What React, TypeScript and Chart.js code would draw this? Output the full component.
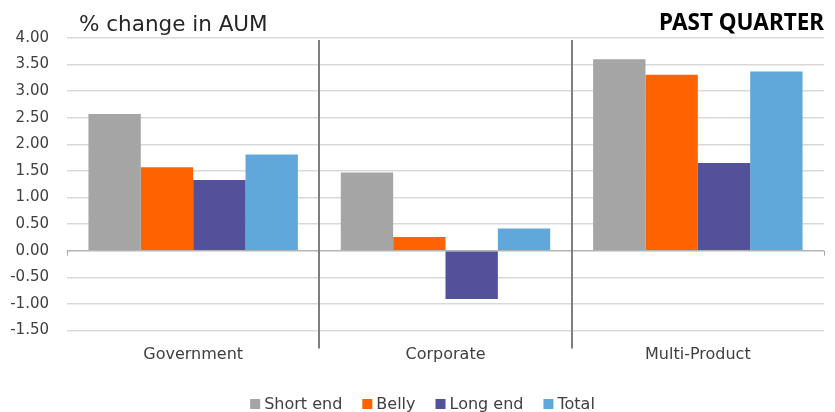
import React, { useEffect, useRef } from "react";
import { Chart, registerables } from "chart.js";

Chart.register(...registerables);

// ---- data ----
const categories = ["Government", "Corporate", "Multi-Product"];
const shortEnd = [2.57, 1.47, 3.6];
const belly = [1.57, 0.26, 3.31];
const longEnd = [1.33, -0.91, 1.65];
const total = [1.81, 0.42, 3.37];
const seriesNames = ["Short end", "Belly", "Long end", "Total"];
const seriesColors = ["#a5a5a5", "#ff6200", "#525199", "#60a7da"];
const chartTitle = "% change in AUM";
const periodLabel = "PAST QUARTER";
const yMin = -1.5;
const yMax = 4;
const yStep = 0.5;

const FONT = "'DejaVu Sans', sans-serif";
const BOLD_FONT = "'Noto Sans', sans-serif";
const TEXT = "#404040";

// Title, period tag, category separators, zero-line tick marks and legend
const decorations = {
  id: "decorations",
  afterDatasetsDraw(chart: any) {
    const { ctx, chartArea, scales } = chart;
    const y = scales.y;
    const n = categories.length;
    const step = (chartArea.right - chartArea.left) / n;
    const zeroY = y.getPixelForValue(0);
    ctx.save();

    // small tick marks hanging from the zero line at category boundaries
    ctx.strokeStyle = "#a6a6a6";
    ctx.lineWidth = 1;
    for (let i = 0; i <= n; i++) {
      const bx = Math.round(chartArea.left + i * step) + 0.5;
      ctx.beginPath();
      ctx.moveTo(bx, zeroY);
      ctx.lineTo(bx, zeroY + 5);
      ctx.stroke();
    }

    // vertical separators between category groups
    ctx.strokeStyle = "#7f7f7f";
    ctx.lineWidth = 2;
    for (let i = 1; i < n; i++) {
      const bx = Math.round(chartArea.left + i * step);
      ctx.beginPath();
      ctx.moveTo(bx, chartArea.top + 2);
      ctx.lineTo(bx, chartArea.bottom + 18);
      ctx.stroke();
    }
    ctx.restore();
  },
  afterDraw(chart: any) {
    const { ctx, chartArea } = chart;
    ctx.save();

    // chart title
    ctx.fillStyle = "#262626";
    ctx.textBaseline = "alphabetic";
    ctx.textAlign = "left";
    ctx.font = `21.5px ${FONT}`;
    ctx.fillText(chartTitle, chartArea.left + 12, 31);

    // period tag
    ctx.fillStyle = "#000000";
    ctx.textAlign = "right";
    ctx.font = `bold 22.5px ${BOLD_FONT}`;
    ctx.fillText(periodLabel, chartArea.right, 29.5);

    // legend
    ctx.font = `16px ${FONT}`;
    ctx.textAlign = "left";
    const box = 10;
    const gap = 4;
    const itemGap = 20;
    const widths = seriesNames.map((s) => box + gap + ctx.measureText(s).width);
    const totalW = widths.reduce((a, b) => a + b, 0) + itemGap * (widths.length - 1);
    let lx = chart.width / 2 + 5 - totalW / 2;
    const baseY = 409;
    chart.data.datasets.forEach((ds: any, i: number) => {
      ctx.fillStyle = ds.backgroundColor;
      ctx.fillRect(lx, baseY - 10, box, box);
      ctx.fillStyle = TEXT;
      ctx.fillText(ds.label, lx + box + gap, baseY);
      lx += widths[i] + itemGap;
    });
    ctx.restore();
  },
};

export default function App() {
  const canvasRef = useRef<HTMLCanvasElement | null>(null);

  useEffect(() => {
    const canvas = canvasRef.current;
    if (!canvas) return;
    Chart.defaults.font.family = FONT;
    const seriesValues = [shortEnd, belly, longEnd, total];

    const chart = new Chart(canvas, {
      type: "bar",
      data: {
        labels: categories,
        datasets: seriesNames.map((name, i) => ({
          label: name,
          data: seriesValues[i],
          backgroundColor: seriesColors[i],
          borderWidth: 0,
          categoryPercentage: 0.83,
          barPercentage: 1.0,
        })),
      },
      options: {
        responsive: false,
        animation: false,
        layout: { padding: { top: 38, right: 11, bottom: 0, left: 0 } },
        plugins: {
          legend: { display: false },
          tooltip: { enabled: false },
          title: { display: false },
        },
        scales: {
          x: {
            grid: { display: false, drawTicks: false },
            border: { display: false },
            ticks: {
              color: TEXT,
              font: { size: 16 },
              padding: 15,
              maxRotation: 0,
            },
            afterFit: (scale: any) => {
              scale.height = 81.5;
            },
          },
          y: {
            min: yMin,
            max: yMax,
            grid: {
              drawTicks: false,
              lineWidth: 1.5,
              color: (c: any) => (c.tick && c.tick.value === 0 ? "#b4b4b4" : "#d9d9d9"),
            },
            border: { display: false },
            ticks: {
              stepSize: yStep,
              color: TEXT,
              font: { size: 15 },
              padding: 18,
              callback: (v: any) => Number(v).toFixed(2),
            },
            afterFit: (scale: any) => {
              scale.width = 67;
            },
          },
        },
      },
      plugins: [decorations],
    });
    return () => chart.destroy();
  }, []);

  return (
    <div style={{ position: "absolute", left: 0, top: 0, width: 835, height: 412, background: "#fff" }}>
      <canvas ref={canvasRef} width={835} height={412} style={{ display: "block" }} />
    </div>
  );
}
